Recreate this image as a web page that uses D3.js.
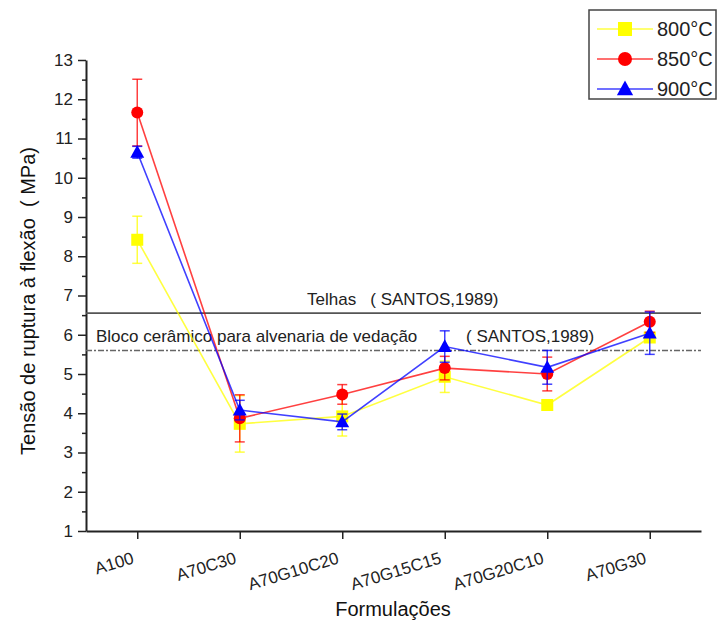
<!DOCTYPE html>
<html>
<head>
<meta charset="utf-8">
<script src="https://cdn.jsdelivr.net/npm/d3@7/dist/d3.min.js"></script>
<style>
  html, body { margin: 0; padding: 0; background: #fff; }
  svg { display: block; font-family: "Liberation Sans", Arial, sans-serif; }
</style>
</head>
<body>
<svg id="chart" width="726" height="635"></svg>
<script>
// Formulations on the x axis
const categories = ["A100", "A70C30", "A70G10C20", "A70G15C15", "A70G20C10", "A70G30"];

// Flexural strength (MPa) and its standard deviation for each firing temperature
const series800 = [8.42, 3.73, 3.92, 4.93, 4.21, 5.93];
const err800    = [0.60, 0.72, 0.50, 0.40, 0.05, 0.12];
const series850 = [11.66, 3.87, 4.48, 5.15, 5.00, 6.33];
const err850    = [0.85, 0.60, 0.25, 0.30, 0.43, 0.27];
const series900 = [10.65, 4.08, 3.78, 5.70, 5.17, 6.04];
const err900    = [0.15, 0.25, 0.20, 0.40, 0.43, 0.54];

const seriesNames = ["800°C", "850°C", "900°C"];

// Reference limits
const refTelhas = 6.55;
const refBloco = 5.6;

const yTicks = [1, 2, 3, 4, 5, 6, 7, 8, 9, 10, 11, 12, 13];

const svg = d3.select("#chart");

const x = d3.scaleLinear().domain([0.5, 6.5]).range([86, 701]);
const y = d3.scaleLinear().domain([1, 13]).range([531, 60]);

const axisColor = "#222";

// Y axis with minor ticks at half units
const minorTicks = d3.range(1.5, 13, 1);
svg.append("g")
  .attr("transform", "translate(86,0)")
  .call(d3.axisLeft(y).tickValues(minorTicks).tickSize(4).tickFormat(""))
  .call(g => g.select(".domain").remove())
  .call(g => g.selectAll("line").attr("stroke", axisColor).attr("stroke-width", 1.5));

const yAxis = svg.append("g")
  .attr("transform", "translate(86,0)")
  .call(d3.axisLeft(y).tickValues(yTicks).tickSize(8).tickSizeOuter(0).tickPadding(5).tickFormat(d3.format("d")));
yAxis.select(".domain").attr("stroke", axisColor).attr("stroke-width", 2);
yAxis.selectAll(".tick line").attr("stroke", axisColor).attr("stroke-width", 1.5);
yAxis.selectAll(".tick text").attr("font-size", 17).attr("fill", "#222")
  .attr("font-family", "Liberation Sans, Arial, sans-serif");

// X axis with slanted category labels
const xAxis = svg.append("g")
  .attr("transform", "translate(0,531)")
  .call(d3.axisBottom(x).tickValues(d3.range(1, categories.length + 1)).tickSize(8).tickSizeOuter(0)
    .tickFormat(i => categories[i - 1]));
xAxis.select(".domain").attr("stroke", axisColor).attr("stroke-width", 2);
xAxis.selectAll(".tick line").attr("stroke", axisColor).attr("stroke-width", 1.5);
xAxis.selectAll(".tick text")
  .attr("font-size", 17).attr("fill", "#222")
  .attr("font-family", "Liberation Sans, Arial, sans-serif")
  .attr("text-anchor", "end")
  .attr("dy", null)
  .attr("y", 0)
  .attr("transform", "translate(-3,32) rotate(-17)");

// Axis titles
svg.append("text")
  .attr("transform", "translate(35,301) rotate(-90)")
  .attr("text-anchor", "middle")
  .attr("font-size", 20).attr("fill", "#111")
  .attr("xml:space", "preserve")
  .text("Tensão de ruptura à flexão  ( MPa)");

svg.append("text")
  .attr("x", 393).attr("y", 616)
  .attr("text-anchor", "middle")
  .attr("font-size", 20).attr("fill", "#111")
  .text("Formulações");

// Reference lines
svg.append("line")
  .attr("x1", x(0.5)).attr("x2", x(6.5))
  .attr("y1", y(refTelhas)).attr("y2", y(refTelhas))
  .attr("stroke", "#555").attr("stroke-width", 1.6);

svg.append("line")
  .attr("x1", x(0.5)).attr("x2", x(6.5))
  .attr("y1", y(refBloco)).attr("y2", y(refBloco))
  .attr("stroke", "#666").attr("stroke-width", 1.4)
  .attr("stroke-dasharray", "6,2,2,2");

svg.append("text")
  .attr("x", 307).attr("y", y(refTelhas) - 8)
  .attr("font-size", 17).attr("fill", "#222")
  .attr("xml:space", "preserve")
  .text("Telhas   ( SANTOS,1989)");

svg.append("text")
  .attr("x", 96).attr("y", y(refBloco) - 8)
  .attr("font-size", 17).attr("fill", "#222")
  .text("Bloco cerâmico para alvenaria de vedação");

svg.append("text")
  .attr("x", 466).attr("y", y(refBloco) - 8)
  .attr("font-size", 17).attr("fill", "#222")
  .attr("xml:space", "preserve")
  .text("( SANTOS,1989)");

// Series
const seriesDefs = [
  { name: seriesNames[0], values: series800, errors: err800, color: "#ffff00", shape: "square" },
  { name: seriesNames[1], values: series850, errors: err850, color: "#ff0000", shape: "circle" },
  { name: seriesNames[2], values: series900, errors: err900, color: "#0000ff", shape: "triangle" }
];

function drawMarker(g, shape, color, cx, cy, s) {
  if (shape === "square") {
    g.append("rect").attr("x", cx - s / 2).attr("y", cy - s / 2)
      .attr("width", s).attr("height", s).attr("fill", color);
  } else if (shape === "circle") {
    g.append("circle").attr("cx", cx).attr("cy", cy).attr("r", s / 2).attr("fill", color);
  } else {
    g.append("path")
      .attr("d", `M${cx},${cy - s * 0.6}L${cx + s * 0.58},${cy + s * 0.45}L${cx - s * 0.58},${cy + s * 0.45}Z`)
      .attr("fill", color);
  }
}

const line = d3.line().x((d, i) => x(i + 1)).y(d => y(d));

seriesDefs.forEach(sd => {
  const g = svg.append("g");
  g.append("path")
    .attr("d", line(sd.values))
    .attr("fill", "none")
    .attr("stroke", sd.color)
    .attr("stroke-opacity", 0.75)
    .attr("stroke-width", 1.6);

  sd.values.forEach((v, i) => {
    const cx = x(i + 1);
    const e = sd.errors[i];
    const eg = g.append("g").attr("stroke", sd.color).attr("stroke-opacity", 0.75).attr("stroke-width", 1.5);
    eg.append("line").attr("x1", cx).attr("x2", cx).attr("y1", y(v + e)).attr("y2", y(v - e));
    eg.append("line").attr("x1", cx - 5).attr("x2", cx + 5).attr("y1", y(v + e)).attr("y2", y(v + e));
    eg.append("line").attr("x1", cx - 5).attr("x2", cx + 5).attr("y1", y(v - e)).attr("y2", y(v - e));
    drawMarker(g, sd.shape, sd.color, cx, y(v), 12);
  });
});

// Legend
const legend = svg.append("g");
legend.append("rect")
  .attr("x", 589).attr("y", 10).attr("width", 127).attr("height", 89)
  .attr("fill", "#fff").attr("stroke", "#444").attr("stroke-width", 1.5);

seriesDefs.forEach((sd, i) => {
  const cy = 29 + i * 30;
  legend.append("line")
    .attr("x1", 597).attr("x2", 653).attr("y1", cy).attr("y2", cy)
    .attr("stroke", sd.color).attr("stroke-opacity", 0.75).attr("stroke-width", 1.5);
  drawMarker(legend, sd.shape, sd.color, 625, cy, 14);
  legend.append("text")
    .attr("x", 657).attr("y", cy + 7)
    .attr("font-size", 20).attr("fill", "#222")
    .text(sd.name);
});
</script>
</body>
</html>
